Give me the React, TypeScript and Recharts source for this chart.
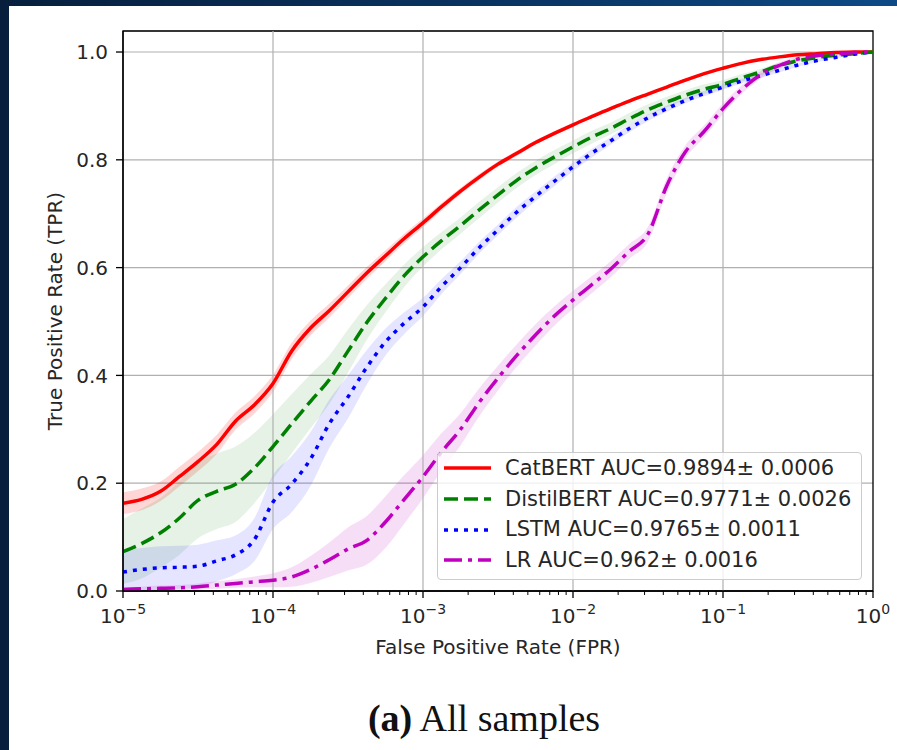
import React from 'react';
import {
  ComposedChart,
  Line,
  Area,
  XAxis,
  YAxis,
  CartesianGrid,
  ReferenceLine,
  ReferenceArea,
  Legend,
} from 'recharts';

// false positive rate grid (log spaced, 8 steps per decade)
const fpr = [
  1e-5, 1.33e-5, 1.78e-5, 2.37e-5, 3.16e-5, 4.22e-5, 5.62e-5, 7.5e-5,
  1e-4, 1.33e-4, 1.78e-4, 2.37e-4, 3.16e-4, 4.22e-4, 5.62e-4, 7.5e-4,
  1e-3, 1.33e-3, 1.78e-3, 2.37e-3, 3.16e-3, 4.22e-3, 5.62e-3, 7.5e-3,
  1e-2, 1.33e-2, 1.78e-2, 2.37e-2, 3.16e-2, 4.22e-2, 5.62e-2, 7.5e-2,
  0.1, 0.133, 0.178, 0.237, 0.316, 0.422, 0.562, 0.75, 1,
];

const catMean = [
  0.163, 0.17, 0.185, 0.212, 0.24, 0.272, 0.315, 0.345, 0.385, 0.445,
  0.488, 0.52, 0.555, 0.59, 0.622, 0.654, 0.683, 0.713, 0.742, 0.768,
  0.792, 0.812, 0.832, 0.849, 0.865, 0.88, 0.895, 0.909, 0.922, 0.935,
  0.948, 0.96, 0.97, 0.979, 0.986, 0.991, 0.995, 0.997, 0.999, 1.0, 1.0,
];
const catSpread = [
  0.02, 0.02, 0.018, 0.018, 0.018, 0.018, 0.016, 0.016, 0.016, 0.015,
  0.014, 0.013, 0.012, 0.011, 0.01, 0.009, 0.008, 0.007, 0.006, 0.006,
  0.005, 0.005, 0.004, 0.004, 0.004, 0.003, 0.003, 0.003, 0.003, 0.002,
  0.002, 0.002, 0.002, 0.002, 0.002, 0.001, 0.001, 0.001, 0.001, 0, 0,
];

const distilMean = [
  0.073, 0.088, 0.108, 0.135, 0.168, 0.185, 0.198, 0.228, 0.268, 0.31,
  0.352, 0.392, 0.445, 0.498, 0.543, 0.585, 0.62, 0.65, 0.678, 0.707,
  0.735, 0.762, 0.785, 0.805, 0.824, 0.842, 0.858, 0.876, 0.893, 0.907,
  0.92, 0.931, 0.94, 0.952, 0.963, 0.975, 0.984, 0.99, 0.994, 0.997, 1.0,
];
const distilSpread = [
  0.06, 0.065, 0.065, 0.068, 0.07, 0.07, 0.07, 0.065, 0.06, 0.055,
  0.05, 0.045, 0.04, 0.032, 0.026, 0.021, 0.018, 0.016, 0.015, 0.015,
  0.014, 0.014, 0.013, 0.013, 0.012, 0.012, 0.011, 0.011, 0.01, 0.01,
  0.009, 0.009, 0.008, 0.007, 0.006, 0.005, 0.004, 0.003, 0.002, 0.001, 0,
];

const lstmMean = [
  0.035, 0.04, 0.043, 0.044, 0.046, 0.056, 0.067, 0.095, 0.165, 0.198,
  0.245, 0.31, 0.36, 0.415, 0.462, 0.497, 0.527, 0.565, 0.6, 0.637,
  0.67, 0.703, 0.732, 0.76, 0.787, 0.812, 0.835, 0.858, 0.878, 0.895,
  0.91, 0.923, 0.935, 0.946, 0.956, 0.966, 0.976, 0.984, 0.99, 0.996, 1.0,
];
const lstmSpread = [
  0.04, 0.04, 0.04, 0.04, 0.04, 0.038, 0.036, 0.04, 0.05, 0.052,
  0.05, 0.045, 0.04, 0.032, 0.025, 0.02, 0.017, 0.014, 0.012, 0.011,
  0.01, 0.01, 0.009, 0.009, 0.008, 0.008, 0.007, 0.007, 0.006, 0.006,
  0.005, 0.005, 0.005, 0.004, 0.004, 0.004, 0.003, 0.003, 0.002, 0.001, 0,
];

const lrMean = [
  0.003, 0.004, 0.005, 0.006, 0.008, 0.011, 0.014, 0.017, 0.02, 0.026,
  0.04, 0.058, 0.078, 0.094, 0.128, 0.17, 0.212, 0.258, 0.3, 0.35,
  0.395, 0.437, 0.475, 0.51, 0.54, 0.568, 0.597, 0.63, 0.662, 0.752,
  0.815, 0.853, 0.895, 0.93, 0.958, 0.975, 0.987, 0.993, 0.996, 0.999, 1.0,
];
const lrSpread = [
  0.004, 0.004, 0.005, 0.005, 0.006, 0.007, 0.008, 0.01, 0.013, 0.018,
  0.025, 0.032, 0.04, 0.045, 0.048, 0.045, 0.04, 0.035, 0.03, 0.026,
  0.023, 0.021, 0.02, 0.018, 0.017, 0.016, 0.015, 0.014, 0.014, 0.014,
  0.012, 0.011, 0.01, 0.008, 0.007, 0.006, 0.004, 0.003, 0.002, 0.001, 0,
];

const majorTicks = [1e-5, 1e-4, 1e-3, 1e-2, 1e-1, 1];
const minorTicks = majorTicks
  .slice(0, -1)
  .flatMap((m) => [2, 3, 4, 5, 6, 7, 8, 9].map((k) => m * k));
const yTicks = [0, 0.2, 0.4, 0.6, 0.8, 1.0];

const series = [
  { key: 'cat', name: 'CatBERT AUC=0.9894\u00b1 0.0006', color: '#ff0000', dash: undefined, mean: catMean, spread: catSpread, band: 0.16 },
  { key: 'distil', name: 'DistilBERT AUC=0.9771\u00b1 0.0026', color: '#008000', dash: '14 6', mean: distilMean, spread: distilSpread, band: 0.1 },
  { key: 'lstm', name: 'LSTM AUC=0.9765\u00b1 0.0011', color: '#0000ff', dash: '4 6', mean: lstmMean, spread: lstmSpread, band: 0.1 },
  { key: 'lr', name: 'LR AUC=0.962\u00b1 0.0016', color: '#bf00bf', dash: '18 6 4 6', mean: lrMean, spread: lrSpread, band: 0.13 },
];

const clamp = (v: number) => Math.min(1, Math.max(0, v));

const data = fpr.map((f, i) => {
  const row: Record<string, any> = { fpr: f };
  series.forEach((s) => {
    row[s.key] = s.mean[i];
    row[s.key + 'Band'] = [clamp(s.mean[i] - s.spread[i]), clamp(s.mean[i] + s.spread[i])];
  });
  return row;
});

function XTick(props: any) {
  const { x, y, payload } = props;
  const lg = Math.log10(payload.value);
  const exp = Math.round(lg);
  const major = Math.abs(lg - exp) < 1e-6;
  return (
    <g>
      <line x1={x} x2={x} y1={y} y2={y + (major ? 7 : 4)} stroke="#000" strokeWidth={major ? 1.3 : 1} />
      {major && (
        <text x={x} y={y + 32} textAnchor="middle" fontSize={20} fill="#262626">
          <tspan>10</tspan>
          <tspan dy={-9} fontSize={14}>{exp === 0 ? '0' : '\u2212' + Math.abs(exp)}</tspan>
        </text>
      )}
    </g>
  );
}

function LegendBox() {
  return (
    <div
      style={{
        boxSizing: 'border-box',
        width: 425,
        height: 128,
        background: 'rgba(255,255,255,0.8)',
        border: '1px solid #cccccc',
        borderRadius: 4,
      }}
    >
      {series.map((s) => (
        <div key={s.key} style={{ display: 'flex', alignItems: 'center', height: 30.7 }}>
          <svg width={67} height={12} style={{ flexShrink: 0 }}>
            <line x1={6} x2={53} y1={6} y2={6} stroke={s.color} strokeWidth={3.5} strokeDasharray={s.dash} />
          </svg>
          <span style={{ fontSize: 21, color: '#262626', lineHeight: '21px', whiteSpace: 'nowrap' }}>{s.name}</span>
        </div>
      ))}
    </div>
  );
}

export default function App() {
  return (
    <div
      style={{
        position: 'relative',
        width: 897,
        height: 750,
        overflow: 'hidden',
        background: 'linear-gradient(90deg, #071f3d 0%, #0a3564 60%, #0d4a86 100%)',
        fontFamily: '"DejaVu Sans", sans-serif',
      }}
    >
      <style>{'body{margin:0}'}</style>
      <div style={{ position: 'absolute', left: 9, top: 6, right: 0, bottom: 0, background: '#fff' }} />

      <div style={{ position: 'absolute', left: 0, top: 0 }}>
        <ComposedChart width={897} height={750} data={data} margin={{ top: 31, right: 24, bottom: 119, left: 43 }}>
          <CartesianGrid vertical={false} stroke="#b0b0b0" strokeWidth={1.2} />
          {majorTicks.slice(1, -1).map((t) => (
            <ReferenceLine key={t} x={t} stroke="#b0b0b0" strokeWidth={1.2} />
          ))}
          <XAxis
            dataKey="fpr"
            type="number"
            scale="log"
            domain={[1e-5, 1]}
            allowDataOverflow
            ticks={[...majorTicks, ...minorTicks].sort((a, b) => a - b)}
            interval={0}
            tick={(p: any) => <XTick {...p} />}
            tickLine={false}
            tickSize={0}
            tickMargin={0}
            height={40}
            axisLine={{ stroke: '#000', strokeWidth: 1.3 }}
          />
          <YAxis
            type="number"
            domain={[0, 1.039]}
            allowDataOverflow
            ticks={yTicks}
            interval={0}
            tickFormatter={(v: number) => v.toFixed(1)}
            width={80}
            tickSize={7}
            tickMargin={8}
            tick={{ fontSize: 20, fill: '#262626' }}
            tickLine={{ stroke: '#000', strokeWidth: 1.3 }}
            axisLine={{ stroke: '#000', strokeWidth: 1.3 }}
          />
          {series.map((s) => (
            <Area
              key={s.key + 'Band'}
              dataKey={s.key + 'Band'}
              type="monotone"
              fill={s.color}
              fillOpacity={s.band}
              stroke="none"
              activeDot={false}
              isAnimationActive={false}
            />
          ))}
          {series.map((s) => (
            <Line
              key={s.key}
              dataKey={s.key}
              type="monotone"
              stroke={s.color}
              strokeWidth={3.5}
              strokeDasharray={s.dash}
              dot={false}
              activeDot={false}
              isAnimationActive={false}
            />
          ))}
          <ReferenceArea x1={1e-5} x2={1} y1={0} y2={1.039} fill="none" stroke="#000" strokeWidth={1.3} ifOverflow="visible" />
          <Legend
            layout="vertical"
            align="center"
            verticalAlign="middle"
            content={() => <LegendBox />}
            wrapperStyle={{ left: 437, top: 452, width: 425, height: 128 }}
          />
        </ComposedChart>
      </div>

      <div
        style={{
          position: 'absolute',
          left: 298,
          top: 637,
          width: 400,
          textAlign: 'center',
          fontSize: 20,
          lineHeight: '20px',
          color: '#262626',
        }}
      >
        False Positive Rate (FPR)
      </div>
      <div
        style={{
          position: 'absolute',
          left: 55 - 150,
          top: 311 - 10,
          width: 300,
          height: 20,
          textAlign: 'center',
          fontSize: 20,
          lineHeight: '20px',
          color: '#262626',
          transform: 'rotate(-90deg)',
          transformOrigin: 'center',
          whiteSpace: 'nowrap',
        }}
      >
        True Positive Rate (TPR)
      </div>
      <div
        style={{
          position: 'absolute',
          left: 284,
          top: 699,
          width: 400,
          textAlign: 'center',
          fontFamily: '"Liberation Serif", serif',
          fontSize: 38,
          lineHeight: '38px',
          color: '#111',
        }}
      >
        <b>(a)</b> All samples
      </div>
    </div>
  );
}
